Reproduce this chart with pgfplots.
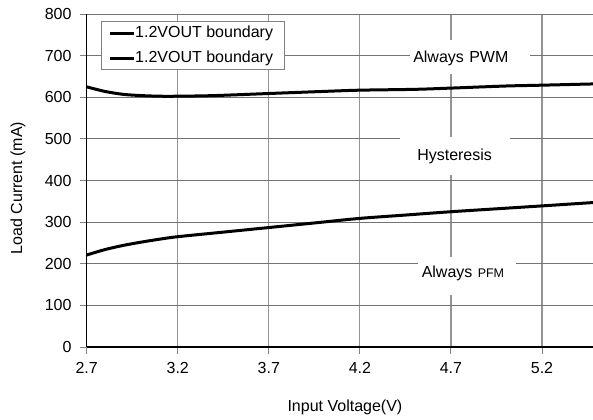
\documentclass[border=0pt]{standalone}
\usepackage{pgfplots}
\pgfplotsset{compat=1.18}
\usepackage{fontspec}
\setmainfont{Liberation Sans}
\begin{document}
\begin{tikzpicture}
\path[use as bounding box] (-86.7bp,-73bp) rectangle (506.3bp,347bp);
\begin{axis}[
  at={(0,0)}, anchor=south west,
  scale only axis, width=506.3bp, height=333bp,
  xmin=2.7, xmax=5.48, ymin=0, ymax=800,
  xtick={2.7,3.2,3.7,4.2,4.7,5.2},
  xticklabels={2.7,3.2,3.7,4.2,4.7,5.2},
  ytick={0,100,200,300,400,500,600,700,800},
  axis lines=left,
  axis line style={-, black, line width=1.3bp},
  tick align=outside, major tick length=7bp,
  major tick style={black!50, line width=1bp},
  grid=major,
  x grid style={black!42, line width=1.2bp},
  y grid style={black!55, line width=1bp},
  font=\fontsize{16bp}{19bp}\selectfont,
  /pgf/number format/assume math mode=true,
  yticklabel style={anchor=east, inner sep=0pt, xshift=-8bp},
  xticklabel style={anchor=north, inner sep=0pt, yshift=-8bp},
  xlabel={Input Voltage(V)},
  ylabel={Load Current (mA)},
  xlabel style={at={(axis description cs:0.51,-0.18)}, anchor=center},
  ylabel style={at={(axis description cs:-0.1357,0.477)}, anchor=center},
  legend style={draw=black!50, line width=1bp, at={(axis description cs:0.0277,0.978)},
    anchor=north west, inner xsep=7.6bp, inner ysep=3.5bp, row sep=9bp, column sep=0pt,
    nodes={inner sep=0pt, text height=12bp, text depth=4bp},
    font=\fontsize{16bp}{19bp}\selectfont},
  legend cell align=left,
  legend image code/.code={\draw[line width=3bp] (0bp,0bp) -- (23.4bp,0bp);},
]
\addplot[black, line width=3bp, smooth] coordinates {
 (2.7,625) (2.8,614) (2.9,607) (3.0,604) (3.1,602.5) (3.2,602.5) (3.4,604)
 (3.7,609) (4.0,614) (4.2,617) (4.5,619) (4.7,622) (5.0,627) (5.2,629) (5.48,632)};
\addlegendentry{\makebox[142bp][l]{1.2VOUT boundary}}
\addplot[black, line width=3bp, smooth] coordinates {
 (2.7,221) (2.8,234) (2.9,244) (3.0,252) (3.1,259) (3.2,265) (3.45,276)
 (3.7,287) (3.95,298) (4.2,309) (4.45,317) (4.7,325) (4.95,332) (5.2,339) (5.48,347)};
\addlegendentry{\makebox[142bp][l]{1.2VOUT boundary}}
\node[fill=white, anchor=west, inner xsep=3bp, inner ysep=0pt, text width=114bp, align=left,
  minimum height=34bp, text height=15bp, text depth=3.4bp] at (axis cs:4.4755,696.7) {Always PWM};
\node[fill=white, anchor=center, inner sep=0pt, minimum width=110bp, minimum height=38bp]
  at (axis cs:4.72,458.9) {Hysteresis};
\node[fill=white, anchor=west, inner xsep=3.5bp, inner ysep=0pt, text width=91bp, align=left,
  minimum height=38bp, text height=11bp, text depth=8bp] at (axis cs:4.5194,170.6) {Always {\fontsize{12.5bp}{14bp}\selectfont PFM}};
\end{axis}
\end{tikzpicture}
\end{document}
